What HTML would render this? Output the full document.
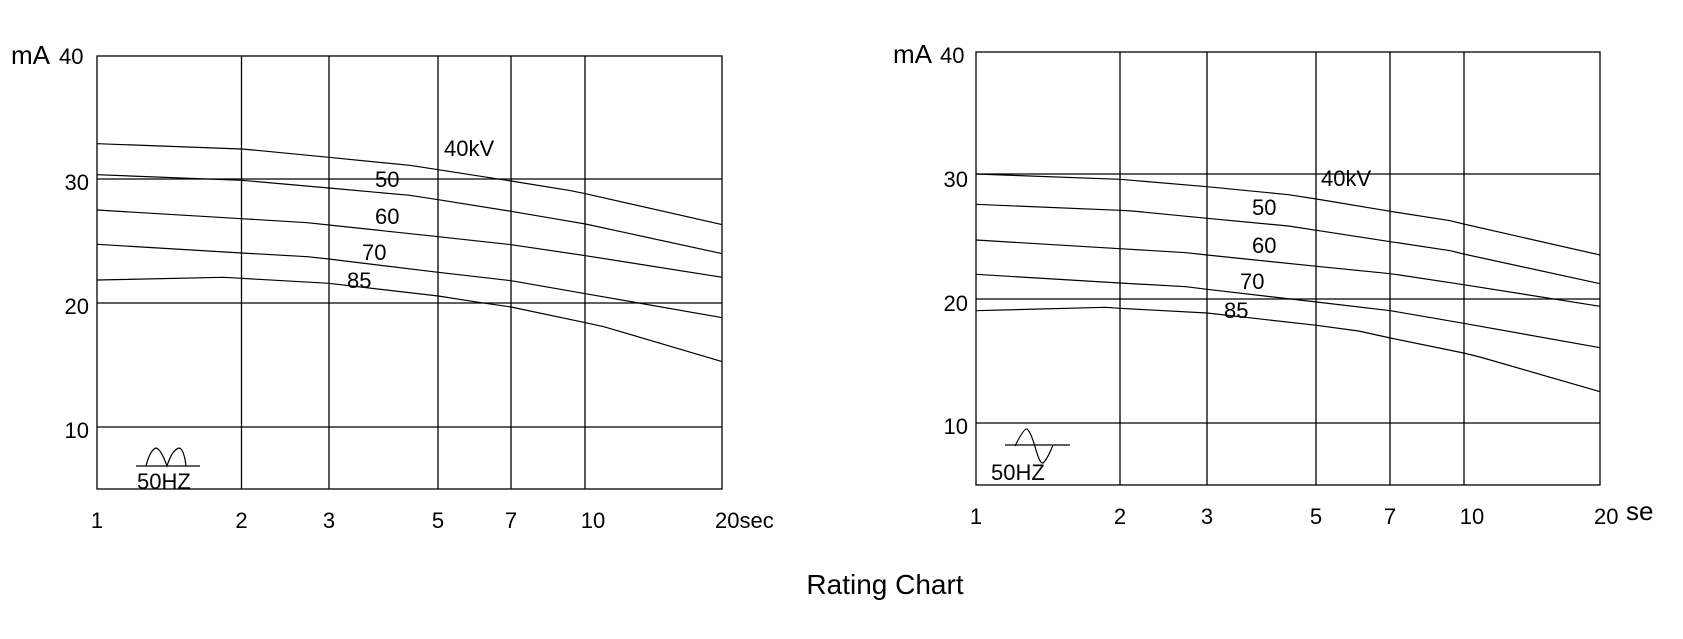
<!DOCTYPE html>
<html><head><meta charset="utf-8"><style>
html,body{margin:0;padding:0;background:#fff;}
svg{display:block;}
text{font-family:"Liberation Sans",Arial,sans-serif;fill:#000;}
</style></head><body>
<svg width="1683" height="639" viewBox="0 0 1683 639" xmlns="http://www.w3.org/2000/svg">
<!-- LEFT CHART -->
<g stroke="#000" stroke-width="1.3" fill="none">
<rect x="97" y="56" width="625" height="433"/>
<line x1="97" y1="179" x2="722" y2="179"/><line x1="97" y1="303" x2="722" y2="303"/><line x1="97" y1="427" x2="722" y2="427"/>
<line x1="241.5" y1="56" x2="241.5" y2="489"/><line x1="329" y1="56" x2="329" y2="489"/><line x1="438" y1="56" x2="438" y2="489"/><line x1="511" y1="56" x2="511" y2="489"/><line x1="585" y1="56" x2="585" y2="489"/>
</g>
<g transform="translate(0,30) scale(0.5391,0.33333)" stroke="#000" fill="none">
<polyline vector-effect="non-scaling-stroke" stroke-width="1.2" points="180,341 448,357 470,360 610,382 760,406 813,419 948,453 1055,481 1086,491 1340,584"/>
<polyline vector-effect="non-scaling-stroke" stroke-width="1.2" points="180,434 448,451 470,454 610,474 760,496 813,509 948,544 1050,572 1086,582 1340,671"/>
<polyline vector-effect="non-scaling-stroke" stroke-width="1.2" points="180,540 448,566 570,578 610,585 813,620 948,644 1086,677 1340,742"/>
<polyline vector-effect="non-scaling-stroke" stroke-width="1.2" points="180,643 448,669 570,680 610,687 813,727 948,752 1086,791 1340,863"/>
<polyline vector-effect="non-scaling-stroke" stroke-width="1.2" points="180,750 415,742 448,745 610,760 813,798 880,815 948,831 1086,878 1120,890 1340,995"/>
</g>
<g font-size="22">
<text x="11" y="64" font-size="26">mA</text><text x="59" y="64">40</text>
<text x="89" y="190" text-anchor="end">30</text>
<text x="89" y="314" text-anchor="end">20</text>
<text x="89" y="438" text-anchor="end">10</text>
<text x="97" y="528" text-anchor="middle">1</text>
<text x="241.5" y="528" text-anchor="middle">2</text>
<text x="329" y="528" text-anchor="middle">3</text>
<text x="438" y="528" text-anchor="middle">5</text>
<text x="511" y="528" text-anchor="middle">7</text>
<text x="593" y="528" text-anchor="middle">10</text>
<text x="715" y="528">20sec</text>
<text x="444" y="156">40kV</text>
<text x="375" y="187">50</text>
<text x="375" y="224">60</text>
<text x="362" y="260">70</text>
<text x="347" y="288">85</text>
<text x="137" y="489">50HZ</text>
</g>
<g stroke="#000" stroke-width="1.2" fill="none">
<line x1="136" y1="466" x2="200" y2="466"/>
<path d="M146,466 Q150,450 156,448 Q161,449 167,466 Q172,450 179,448 Q184,449 186,466"/>
</g>

<!-- RIGHT CHART -->
<g stroke="#000" stroke-width="1.3" fill="none">
<rect x="976" y="52" width="624" height="433"/>
<line x1="976" y1="174" x2="1600" y2="174"/><line x1="976" y1="299" x2="1600" y2="299"/><line x1="976" y1="423" x2="1600" y2="423"/>
<line x1="1120" y1="52" x2="1120" y2="485"/><line x1="1207" y1="52" x2="1207" y2="485"/><line x1="1316" y1="52" x2="1316" y2="485"/><line x1="1390" y1="52" x2="1390" y2="485"/><line x1="1464" y1="52" x2="1464" y2="485"/>
</g>
<g transform="translate(841,30) scale(0.5391,0.33333)" stroke="#000" fill="none">
<polyline vector-effect="non-scaling-stroke" stroke-width="1.2" points="250,432 517,448 540,451 679,470 830,494 882,507 1019,544 1130,572 1155,582 1408,675"/>
<polyline vector-effect="non-scaling-stroke" stroke-width="1.2" points="250,523 517,541 540,543 679,565 830,588 882,601 1019,635 1130,662 1155,672 1408,761"/>
<polyline vector-effect="non-scaling-stroke" stroke-width="1.2" points="250,630 517,656 640,668 679,675 882,709 1019,731 1155,764 1408,829"/>
<polyline vector-effect="non-scaling-stroke" stroke-width="1.2" points="250,733 517,759 640,770 679,778 882,816 1019,842 1155,880 1408,953"/>
<polyline vector-effect="non-scaling-stroke" stroke-width="1.2" points="250,842 490,832 517,835 679,849 882,886 960,903 1019,924 1155,969 1185,981 1408,1085"/>
</g>
<g font-size="22">
<text x="893" y="63" font-size="26">mA</text><text x="940" y="63">40</text>
<text x="968" y="187" text-anchor="end">30</text>
<text x="968" y="311" text-anchor="end">20</text>
<text x="968" y="434" text-anchor="end">10</text>
<text x="976" y="524" text-anchor="middle">1</text>
<text x="1120" y="524" text-anchor="middle">2</text>
<text x="1207" y="524" text-anchor="middle">3</text>
<text x="1316" y="524" text-anchor="middle">5</text>
<text x="1390" y="524" text-anchor="middle">7</text>
<text x="1472" y="524" text-anchor="middle">10</text>
<text x="1594" y="524">20</text>
<text x="1626" y="520" font-size="26">se</text>
<text x="1321" y="186">40kV</text>
<text x="1252" y="215">50</text>
<text x="1252" y="253">60</text>
<text x="1240" y="289">70</text>
<text x="1224" y="318">85</text>
<text x="991" y="480">50HZ</text>
</g>
<g stroke="#000" stroke-width="1.2" fill="none">
<line x1="1005" y1="445" x2="1070" y2="445"/>
<path d="M1015,446 Q1024,428 1027,429 Q1031,432 1036,450 Q1040,464 1043,463 Q1047,460 1053,445"/>
</g>

<text x="885" y="594" font-size="28" text-anchor="middle">Rating Chart</text>
</svg>
</body></html>
